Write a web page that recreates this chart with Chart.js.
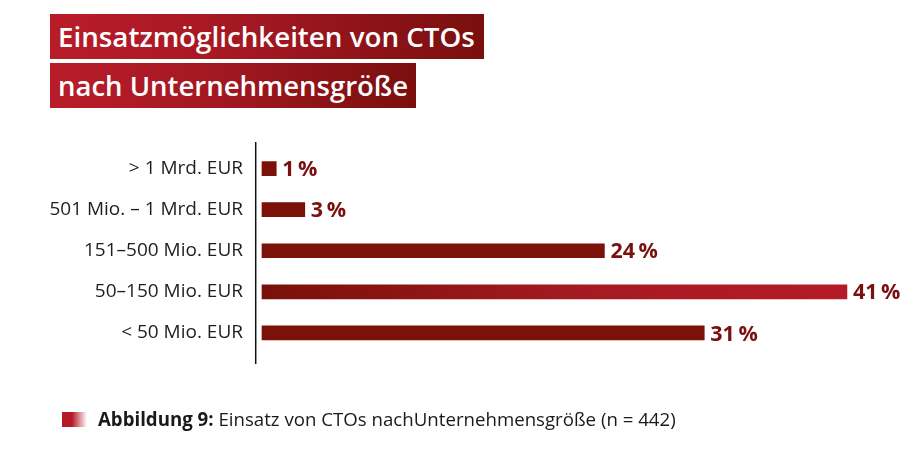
<!DOCTYPE html>
<html><head><meta charset="utf-8">
<script src="https://cdn.jsdelivr.net/npm/chart.js@4"></script>
<style>
html,body{margin:0;padding:0;background:#fff;width:922px;height:467px;overflow:hidden;}
#wrap{position:relative;width:922px;height:467px;}
canvas#c{position:absolute;left:0;top:0;}
.tbox{position:absolute;left:50px;height:45px;background:linear-gradient(90deg,#b91c29 0%,#a31822 45%,#7a0f0e 100%);color:#fff;font-family:"Open Sans",sans-serif;font-weight:600;white-space:nowrap;line-height:45px;box-sizing:border-box;padding-left:8px;}
#t1{top:14px;width:434px;}
#t2{top:63px;width:366px;}
#cap{position:absolute;left:98px;top:405px;font-family:"Open Sans",sans-serif;font-size:16px;color:#1a1a1a;white-space:nowrap;line-height:28px;}
#sq{position:absolute;left:62px;top:412px;width:25px;height:15px;background:linear-gradient(90deg,#b51b26 0%,#b51b26 40%,#ffffff 100%);}
</style></head>
<body><div id="wrap">
<canvas id="c" width="922" height="467"></canvas>
<div class="tbox" id="t1"><span>Einsatzmöglichkeiten von CTOs</span></div>
<div class="tbox" id="t2"><span>nach Unternehmensgröße</span></div>
<div id="sq"></div>
<div id="cap"><b>Abbildung 9:</b> Einsatz von CTOs nachUnternehmensgröße (n = 442)</div>
</div>
<script>
const categories = ["> 1 Mrd. EUR", "501 Mio. – 1 Mrd. EUR", "151–500 Mio. EUR", "50–150 Mio. EUR", "< 50 Mio. EUR"];
const values = [1, 3, 24, 41, 31];
const unit = "\u2009%";

function fitText(el, target, base){
  const span = el.querySelector('span') || el;
  let fs = base; el.style.fontSize = fs + 'px';
  const w = span.getBoundingClientRect().width;
  fs = fs * target / w; el.style.fontSize = fs + 'px';
}
fitText(document.getElementById('t1'), 417, 25);
fitText(document.getElementById('t2'), 350, 25);
(function(){
  const cap = document.getElementById('cap');
  cap.style.fontSize = '16px';
  const w = cap.getBoundingClientRect().width;
  cap.style.fontSize = (16*578/w) + 'px';
})();

const axisLine = {
  id:'axisLine',
  afterDraw(chart){
    const ctx = chart.ctx;
    ctx.save();
    ctx.strokeStyle = '#111';
    ctx.lineWidth = 1.5;
    ctx.beginPath();
    ctx.moveTo(255.7, 142);
    ctx.lineTo(255.7, 364);
    ctx.stroke();
    ctx.restore();
  }
};
const valueLabels = {
  id:'valueLabels',
  afterDatasetsDraw(chart){
    const ctx = chart.ctx;
    const meta = chart.getDatasetMeta(0);
    ctx.save();
    ctx.fillStyle = '#7a1010';
    ctx.font = 'bold 21.5px "Open Sans", sans-serif';
    ctx.textBaseline = 'middle';
    ctx.textAlign = 'left';
    meta.data.forEach((bar,i)=>{
      ctx.fillText(values[i] + unit, bar.x + 6, bar.y + 1.5);
    });
    ctx.restore();
  }
};

new Chart(document.getElementById('c'), {
  type:'bar',
  data:{
    labels: categories,
    datasets:[{
      data: values,
      barThickness: 14,
      borderWidth: 0,
      backgroundColor(ctx){
        const chart = ctx.chart;
        if (ctx.dataIndex === 3 && chart.chartArea) {
          const x0 = chart.scales.x.getPixelForValue(0);
          const x1 = chart.scales.x.getPixelForValue(values[3]);
          const g = chart.ctx.createLinearGradient(x0,0,x1,0);
          g.addColorStop(0,'#7a1009');
          g.addColorStop(0.55,'#a51a22');
          g.addColorStop(1,'#b51b27');
          return g;
        }
        return '#7b1109';
      }
    }]
  },
  options:{
    indexAxis:'y',
    responsive:false,
    animation:false,
    events:[],
    layout:{padding:{top:148,bottom:113.5,right:18,left:0}},
    plugins:{legend:{display:false},tooltip:{enabled:false},title:{display:false}},
    scales:{
      x:{display:false,min:-0.42,max:45},
      y:{
        afterFit(s){ s.width = 256; },
        border:{display:false},
        grid:{display:false,drawTicks:false},
        ticks:{color:'#1e1e1e',padding:13,font:{family:'"Open Sans", sans-serif',size:19}}
      }
    }
  },
  plugins:[axisLine,valueLabels]
});
</script>
</body></html>
